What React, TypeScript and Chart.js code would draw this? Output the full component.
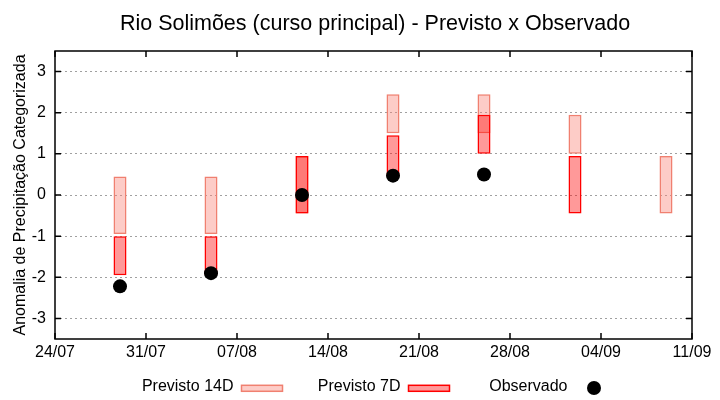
import { useEffect, useRef } from "react";
import { Chart, registerables } from "chart.js";

Chart.register(...registerables);

// ---------- data ----------
const YEAR = 2024;
const forecastDates = ["29/07", "05/08", "12/08", "19/08", "26/08", "02/09", "09/09"];
const prev14Low: (number | null)[] = [-0.95, -0.95, -0.45, 1.5, 1.5, 1.0, -0.45];
const prev14High: (number | null)[] = [0.45, 0.45, 0.95, 2.45, 2.45, 1.95, 0.95];
const prev7Low: (number | null)[] = [-1.95, -1.95, -0.45, 0.45, 1.0, -0.45, null];
const prev7High: (number | null)[] = [-1.0, -1.0, 0.95, 1.45, 1.95, 0.95, null];
const observed: (number | null)[] = [-2.22, -1.9, 0.0, 0.47, 0.5, null, null];
const xTickLabels = ["24/07", "31/07", "07/08", "14/08", "21/08", "28/08", "04/09", "11/09"];
const yTickValues = [-3, -2, -1, 0, 1, 2, 3];
const Y_MIN = -3.5;
const Y_MAX = 3.5;
const BOX_DAYS = 1;
const TICK_STEP_DAYS = 7;

const TITLE = "Rio Solimões (curso principal) - Previsto x Observado";
const Y_TITLE = "Anomalia de Precipitação Categorizada";
const LABEL_14D = "Previsto 14D";
const LABEL_7D = "Previsto 7D";
const LABEL_OBS = "Observado";

const FONT = '"Liberation Sans", Arial, sans-serif';

function dayNum(s: string): number {
  const [d, m] = s.split("/").map(Number);
  return Math.round(Date.UTC(YEAR, m - 1, d) / 86400000);
}
function fmtDay(day: number): string {
  const dt = new Date(day * 86400000);
  const d = String(dt.getUTCDate()).padStart(2, "0");
  const m = String(dt.getUTCMonth() + 1).padStart(2, "0");
  return `${d}/${m}`;
}

const days = forecastDates.map(dayNum);
const xTickDays = xTickLabels.map(dayNum);

function rangePoints(lo: (number | null)[], hi: (number | null)[]) {
  const out: { x: number; y: [number, number] }[] = [];
  days.forEach((x, i) => {
    const a = lo[i];
    const b = hi[i];
    if (a != null && b != null) out.push({ x, y: [a, b] });
  });
  return out;
}
function obsPoints() {
  const out: { x: number; y: number }[] = [];
  days.forEach((x, i) => {
    const v = observed[i];
    if (v != null) out.push({ x, y: v });
  });
  return out;
}

// ---------- plugins ----------
const titlePlugin = {
  id: "gpTitle",
  afterDraw(chart: any) {
    const { ctx, chartArea } = chart;
    ctx.save();
    ctx.font = `21.5px ${FONT}`;
    ctx.fillStyle = "#000";
    ctx.textAlign = "center";
    ctx.textBaseline = "alphabetic";
    ctx.fillText(TITLE, (chartArea.left + chartArea.right) / 2 + 1.5, 30);
    ctx.restore();
  },
};

const framePlugin = {
  id: "gpFrame",
  afterDraw(chart: any) {
    const { ctx, chartArea } = chart;
    const { left, right, top, bottom } = chartArea;
    const xs = chart.scales.x;
    const ys = chart.scales.y;
    ctx.save();
    ctx.strokeStyle = "#000";
    ctx.lineWidth = 1.5;
    ctx.setLineDash([]);
    ctx.beginPath();
    const tl = 6;
    xs.ticks.forEach((t: any) => {
      const px = xs.getPixelForValue(t.value);
      ctx.moveTo(px, bottom);
      ctx.lineTo(px, bottom - tl);
      ctx.moveTo(px, top);
      ctx.lineTo(px, top + tl);
    });
    ys.ticks.forEach((t: any) => {
      const py = ys.getPixelForValue(t.value);
      ctx.moveTo(left, py);
      ctx.lineTo(left + tl, py);
      ctx.moveTo(right, py);
      ctx.lineTo(right - tl, py);
    });
    ctx.stroke();
    ctx.strokeRect(left, top, right - left, bottom - top);
    ctx.restore();
  },
};

const legendPlugin = {
  id: "gpLegend",
  afterDraw(chart: any) {
    const { ctx } = chart;
    const ds = chart.data.datasets;
    const colW = 167;
    const firstTextRight = 233.5;
    const baseline = 391.3;
    const sampleW = 41;
    const sampleH = 6;
    ctx.save();
    ctx.font = `16px ${FONT}`;
    ctx.textAlign = "right";
    ctx.textBaseline = "alphabetic";
    ds.forEach((d: any, i: number) => {
      const xr = firstTextRight + i * colW;
      ctx.fillStyle = "#000";
      ctx.fillText(d.label, xr, baseline);
      const sx = xr + 8;
      if (d.type === "scatter") {
        ctx.beginPath();
        ctx.fillStyle = d.backgroundColor;
        ctx.arc(sx + sampleW / 2 - 2, baseline - 3.3, d.pointRadius, 0, Math.PI * 2);
        ctx.fill();
      } else {
        ctx.fillStyle = d.backgroundColor;
        ctx.fillRect(sx, baseline - sampleH, sampleW, sampleH);
        ctx.strokeStyle = d.borderColor;
        ctx.lineWidth = d.borderWidth;
        ctx.strokeRect(sx, baseline - sampleH, sampleW, sampleH);
      }
    });
    ctx.restore();
  },
};

export default function App() {
  const ref = useRef<HTMLCanvasElement>(null);

  useEffect(() => {
    if (!ref.current) return;
    const barFrac = BOX_DAYS / TICK_STEP_DAYS;
    const chart = new Chart(ref.current, {
      type: "bar",
      data: {
        datasets: [
          {
            type: "bar",
            label: LABEL_14D,
            data: rangePoints(prev14Low, prev14High) as any,
            backgroundColor: "rgba(250,128,114,0.4)",
            borderColor: "#f08070",
            borderWidth: 1.5,
            borderSkipped: false,
            grouped: false,
            barPercentage: barFrac,
            categoryPercentage: 1,
            order: 2,
          } as any,
          {
            type: "bar",
            label: LABEL_7D,
            data: rangePoints(prev7Low, prev7High) as any,
            backgroundColor: "rgba(255,0,0,0.4)",
            borderColor: "#ff0000",
            borderWidth: 1.5,
            borderSkipped: false,
            grouped: false,
            barPercentage: barFrac,
            categoryPercentage: 1,
            order: 1,
          } as any,
          {
            type: "scatter",
            label: LABEL_OBS,
            data: obsPoints() as any,
            backgroundColor: "#000",
            borderColor: "#000",
            borderWidth: 0,
            pointRadius: 7,
            pointHoverRadius: 7,
            showLine: false,
            order: 0,
          } as any,
        ],
      },
      options: {
        responsive: false,
        animation: false,
        devicePixelRatio: 1,
        layout: { padding: { left: 0, right: 28, top: 51, bottom: 0 } },
        plugins: {
          legend: { display: false },
          tooltip: { enabled: false },
          title: { display: false },
        },
        scales: {
          x: {
            type: "linear",
            min: xTickDays[0],
            max: xTickDays[xTickDays.length - 1],
            offset: false,
            grid: { display: false, drawTicks: false, offset: false },
            border: { display: false },
            afterBuildTicks: (s: any) => {
              s.ticks = xTickDays.map((v) => ({ value: v }));
            },
            afterFit: (s: any) => {
              s.height = 61;
            },
            ticks: {
              color: "#000",
              font: { family: FONT, size: 16 },
              padding: 4,
              maxRotation: 0,
              autoSkip: false,
              callback: (v: any) => fmtDay(Number(v)),
            },
          },
          y: {
            type: "linear",
            min: Y_MIN,
            max: Y_MAX,
            grid: { color: "#a0a0a0", lineWidth: 1, drawTicks: false },
            border: { display: false, dash: [2, 3] },
            afterBuildTicks: (s: any) => {
              s.ticks = yTickValues.map((v) => ({ value: v }));
            },
            afterFit: (s: any) => {
              s.width = 55;
            },
            ticks: {
              color: "#000",
              font: { family: FONT, size: 16 },
              padding: 9,
              callback: (v: any) => String(v),
            },
            title: {
              display: true,
              text: Y_TITLE,
              color: "#000",
              font: { family: FONT, size: 16 },
              padding: { top: 11, bottom: 0 },
            },
          },
        },
      },
      plugins: [titlePlugin, framePlugin, legendPlugin],
    } as any);
    return () => chart.destroy();
  }, []);

  return (
    <div
      style={{
        position: "fixed",
        left: 0,
        top: 0,
        width: 720,
        height: 400,
        background: "#fff",
      }}
    >
      <canvas ref={ref} width={720} height={400} style={{ display: "block" }} />
    </div>
  );
}
